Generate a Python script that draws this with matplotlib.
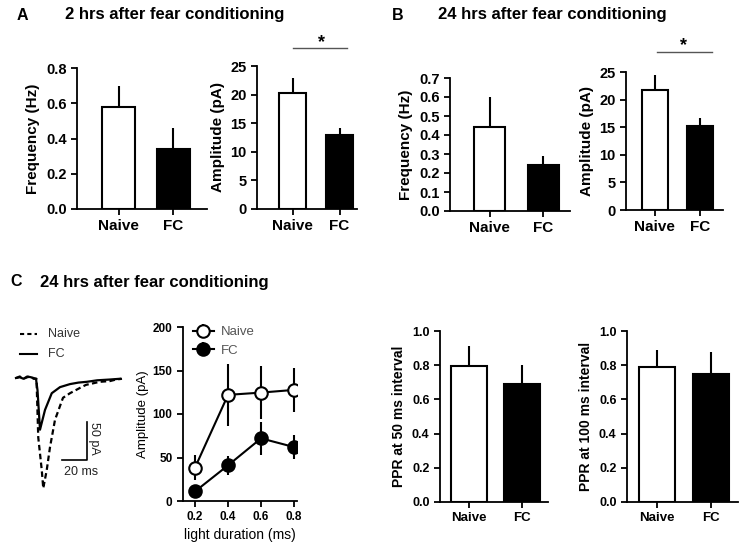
import numpy as np
from matplotlib import pyplot as plt
from matplotlib.lines import Line2D

plt.rcParams['font.family'] = ['Liberation Sans', 'DejaVu Sans']

W, H = 748, 551

groups = ['Naive', 'FC']

# panel A: 2 hrs after fear conditioning
freq_2h = [0.58, 0.34]
freq_2h_err = [0.117, 0.12]
amp_2h = [20.2, 12.9]
amp_2h_err = [2.7, 1.3]

# panel B: 24 hrs after fear conditioning
freq_24h = [0.44, 0.24]
freq_24h_err = [0.16, 0.048]
amp_24h = [21.8, 15.25]
amp_24h_err = [2.7, 1.35]

# panel C: evoked amplitude vs light duration
light_duration = [0.2, 0.4, 0.6, 0.8]
naive_amp = [38.5, 122, 124.6, 127.7]
naive_amp_err = [14, 36, 30, 25]
fc_amp = [11, 41, 72, 62]
fc_amp_err = [4, 11, 19, 14]

# paired pulse ratio
ppr_50 = [0.796, 0.689]
ppr_50_err = [0.116, 0.113]
ppr_100 = [0.788, 0.749]
ppr_100_err = [0.10, 0.13]

# example traces (ms, pA)
naive_t = [0, 3, 6, 9, 12, 14, 16.4, 17.8, 20.6, 21.8, 24.6, 27.2, 31.2, 37.6, 43.2, 51.2, 56, 61.6, 67, 75.2, 80, 84.8]
naive_i = [0, 2, -1, 1, 2, -1, -1, -78, -121, -145, -121, -91, -55, -26, -20, -13, -9, -7, -5, -4, -2, -1]
fc_t = [0, 3, 6, 9, 12, 14, 16, 17.2, 19.2, 23.2, 28.6, 35.2, 43.2, 50, 56.6, 65, 75, 83.2]
fc_i = [0, 1, -1, 2, 1, 0, -1, -16, -68, -42, -20, -12, -8, -6, -5, -3, -2, -1]


def rect(x0, y0, x1, y1):
    return [x0 / W, 1 - y1 / H, (x1 - x0) / W, (y1 - y0) / H]


def style_axes(ax, lw=1.3):
    ax.spines['top'].set_visible(False)
    ax.spines['right'].set_visible(False)
    ax.spines['left'].set_linewidth(lw)
    ax.spines['bottom'].set_linewidth(lw)
    ax.tick_params(direction='out', width=lw, length=4)


def bar_panel(fig, box, vals, errs, ylim, yticks, ylabel, xlim, width, fs, xfs, ylfs, fmt):
    ax = fig.add_axes(rect(*box))
    x = np.arange(len(groups))
    ax.bar(x, vals, width=width, color=['white', 'black'], edgecolor='black',
           linewidth=1.5, zorder=2)
    ax.errorbar(x, vals, yerr=[[0, 0], errs], fmt='none', ecolor='black',
                elinewidth=1.5, capsize=0, zorder=1)
    ax.set_xlim(*xlim)
    ax.set_ylim(*ylim)
    ax.set_yticks(yticks)
    ax.set_yticklabels([fmt.format(v) for v in yticks], fontsize=fs, fontweight='bold')
    ax.set_xticks(x)
    ax.set_xticklabels(groups, fontsize=xfs, fontweight='bold')
    ax.set_ylabel(ylabel, fontsize=ylfs, fontweight='bold')
    style_axes(ax)
    return ax


fig = plt.figure(figsize=(W / 100, H / 100), dpi=100)

# panel titles
fig.text(17 / W, 1 - 15 / H, 'A', fontsize=11.5, fontweight='bold', va='center')
fig.text(65 / W, 1 - 15 / H, '2 hrs after fear conditioning', fontsize=12, fontweight='bold', va='center')
fig.text(392 / W, 1 - 15 / H, 'B', fontsize=11.5, fontweight='bold', va='center')
fig.text(438 / W, 1 - 15 / H, '24 hrs after fear conditioning', fontsize=12, fontweight='bold', va='center')
fig.text(10 / W, 1 - 282 / H, 'C', fontsize=11.5, fontweight='bold', va='center')
fig.text(40 / W, 1 - 282 / H, '24 hrs after fear conditioning', fontsize=12, fontweight='bold', va='center')

bar_panel(fig, (77, 68, 207, 209), freq_2h, freq_2h_err, (0, 0.8), [0, 0.2, 0.4, 0.6, 0.8],
          'Frequency (Hz)', (-0.755, 1.61), 0.6, 10.5, 11, 11, '{:.1f}')
bar_panel(fig, (257, 66, 357, 209), amp_2h, amp_2h_err, (0, 25), [0, 5, 10, 15, 20, 25],
          'Amplitude (pA)', (-0.755, 1.37), 0.57, 10.5, 11, 11, '{:g}')
fig.add_artist(Line2D([293 / W, 347 / W], [1 - 48 / H, 1 - 48 / H], color='#555555', lw=1))
fig.text(321 / W, 1 - 43 / H, '*', fontsize=13, fontweight='bold', ha='center', va='center')

bar_panel(fig, (450, 78, 570, 211), freq_24h, freq_24h_err, (0, 0.7),
          [0, 0.1, 0.2, 0.3, 0.4, 0.5, 0.6, 0.7], 'Frequency (Hz)', (-0.74, 1.5), 0.58,
          10.5, 11, 11, '{:.1f}')
bar_panel(fig, (626, 72, 723, 210), amp_24h, amp_24h_err, (0, 25), [0, 5, 10, 15, 20, 25],
          'Amplitude (pA)', (-0.64, 1.51), 0.58, 10.5, 11, 11, '{:g}')
fig.add_artist(Line2D([657 / W, 712 / W], [1 - 52 / H, 1 - 52 / H], color='#555555', lw=1))
fig.text(684 / W, 1 - 46 / H, '*', fontsize=13, fontweight='bold', ha='center', va='center')

# example traces
axt = fig.add_axes(rect(10, 360, 130, 500))
axt.plot(naive_t, naive_i, color='black', lw=1.6, ls=(0, (2.5, 1.5)))
axt.plot(fc_t, fc_i, color='black', lw=1.6)
axt.plot([36.8, 56.8, 56.8], [-107.9, -107.9, -57.9], color='black', lw=1.2)
axt.text(52, -116, '20 ms', fontsize=9, ha='center', va='top', color='#222222')
axt.text(62, -80, '50 pA', fontsize=9, rotation=270, ha='center', va='center', color='#222222')
axt.set_xlim(-4.8, 91.2)
axt.set_ylim(-160.5, 23.7)
axt.axis('off')

fig.add_artist(Line2D([20 / W, 37 / W], [1 - 334 / H] * 2, color='black', lw=1.5, ls=(0, (2, 1.5))))
fig.add_artist(Line2D([20 / W, 37 / W], [1 - 354 / H] * 2, color='black', lw=1.5))
fig.text(48 / W, 1 - 334 / H, 'Naive', fontsize=9, va='center', color='#333333')
fig.text(48 / W, 1 - 354 / H, 'FC', fontsize=9, va='center', color='#333333')

# amplitude vs light duration
axl = fig.add_axes(rect(183, 327, 297, 501))
axl.errorbar(light_duration, naive_amp, yerr=naive_amp_err, color='black', lw=1.5,
             elinewidth=1.5, capsize=0, marker='o', ms=9, mfc='white', mec='black', mew=1.5,
             label='Naive', zorder=3)
axl.errorbar(light_duration, fc_amp, yerr=fc_amp_err, color='black', lw=1.5,
             elinewidth=1.5, capsize=0, marker='o', ms=9, mfc='black', mec='black', mew=1.5,
             label='FC', zorder=3)
axl.set_xlim(0.127, 0.818)
axl.set_ylim(0, 200)
axl.set_yticks([0, 50, 100, 150, 200])
axl.set_yticklabels(['0', '50', '100', '150', '200'], fontsize=8.5, fontweight='bold')
axl.set_xticks(light_duration)
axl.set_xticklabels(['0.2', '0.4', '0.6', '0.8'], fontsize=8.5, fontweight='bold')
axl.set_ylabel('Amplitude (pA)', fontsize=9.5, labelpad=3)
axl.set_xlabel('light duration (ms)', fontsize=10, labelpad=3)
style_axes(axl)
leg = axl.legend(loc='upper left', bbox_to_anchor=(0.04, 1.035), frameon=False, fontsize=9.5,
                 handlelength=1.6, handletextpad=0.5, labelspacing=0.45, borderaxespad=0)
for t in leg.get_texts():
    t.set_color('#555555')

# paired pulse ratio
bar_panel(fig, (440, 331, 548, 502), ppr_50, ppr_50_err, (0, 1.0), [0, 0.2, 0.4, 0.6, 0.8, 1.0],
          'PPR at 50 ms interval', (-0.54, 1.48), 0.67, 9, 9.5, 10, '{:.1f}')
bar_panel(fig, (627, 331, 738, 502), ppr_100, ppr_100_err, (0, 1.0), [0, 0.2, 0.4, 0.6, 0.8, 1.0],
          'PPR at 100 ms interval', (-0.56, 1.51), 0.67, 9, 9.5, 10, '{:.1f}')

plt.savefig('out.png', dpi=100)
